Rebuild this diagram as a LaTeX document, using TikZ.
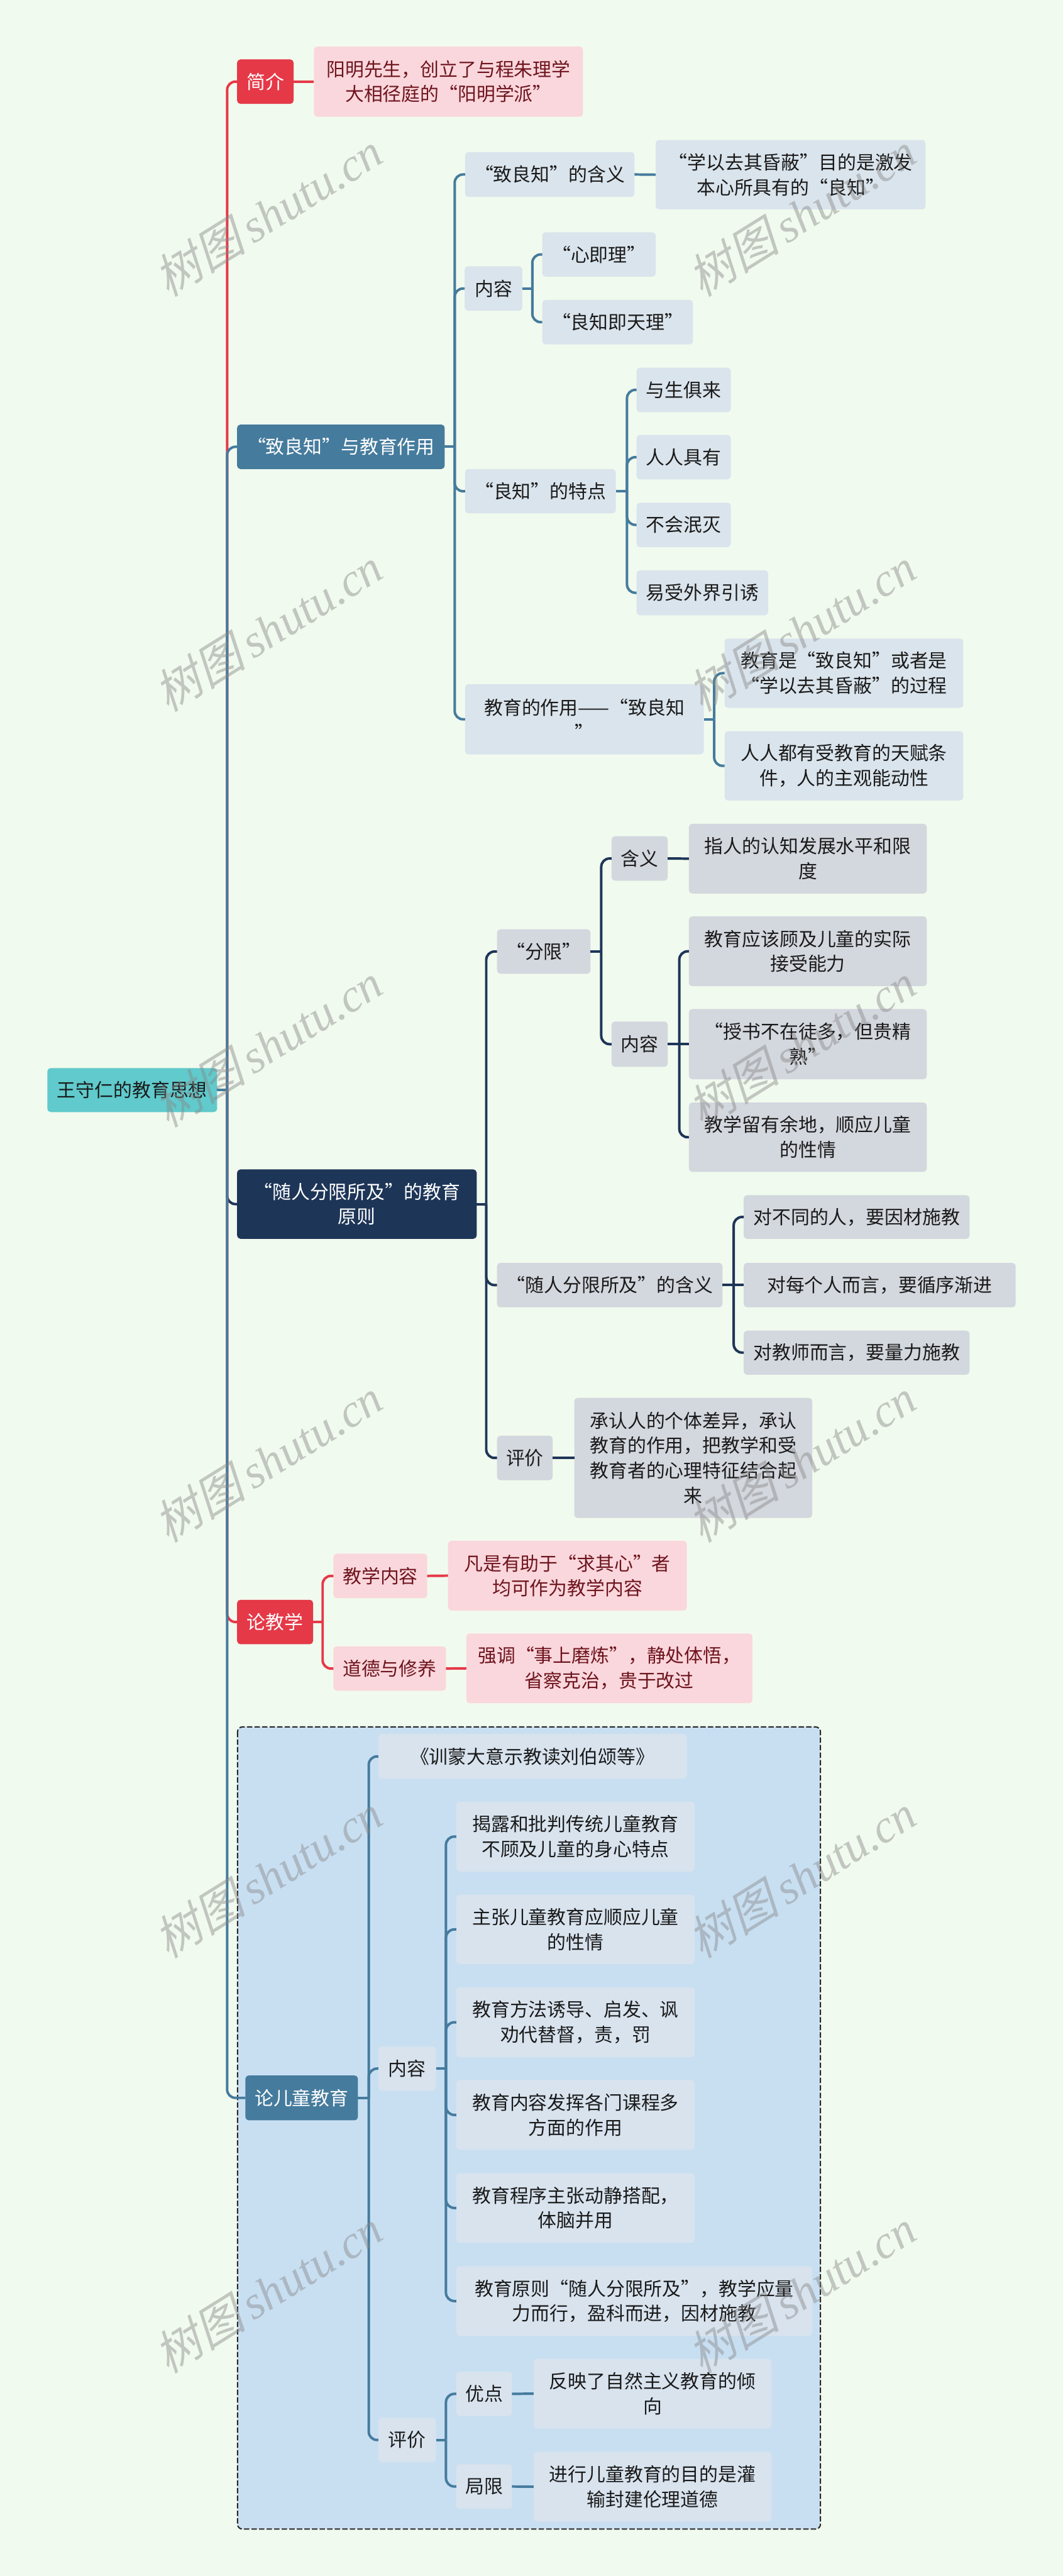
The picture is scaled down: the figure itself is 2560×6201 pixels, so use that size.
\documentclass[tikz,border=0pt]{standalone}
\usepackage{fontspec}
\setmainfont{Noto Sans CJK SC}
\newfontfamily\wmcjk[FakeSlant=0.25]{Noto Sans CJK SC}
\newfontfamily\wmlat{Liberation Serif}
\definecolor{bgc}{RGB}{241,250,238}
\definecolor{teal}{RGB}{96,202,204}
\definecolor{steel}{RGB}{69,123,157}
\definecolor{navy}{RGB}{29,53,87}
\definecolor{redb}{RGB}{229,57,72}
\definecolor{lsteel}{RGB}{218,228,236}
\definecolor{lnavy}{RGB}{211,215,222}
\definecolor{pinkb}{RGB}{250,215,220}
\definecolor{pinkt}{RGB}{110,20,30}
\definecolor{boxbg}{RGB}{200,223,242}
\definecolor{ebox}{RGB}{216,227,238}
\definecolor{txt}{RGB}{26,26,26}
\definecolor{wmgray}{RGB}{136,136,136}
\newcommand{\bx}[7]{%
  \pgfmathsetmacro\bxW{(#5-#3)*0.25}\pgfmathsetmacro\bxH{(#6-#4)*0.25}%
  \node[#2, minimum width=\bxW pt, minimum height=\bxH pt] (#1) at ({(#3+#5)/2},{(#4+#6)/2}) {#7};}
\newcommand{\tr}[4]{%
  \draw[#1] (#2.east) -- (#2.east -| #3);
  \draw[#1, rounded corners=5pt] (#2.east -| #3) |- (#4.west);}
\begin{document}
\begin{tikzpicture}[x=0.25pt,y=-0.25pt,
  base/.style={rounded corners=2pt, inner sep=0pt, outer sep=0pt, align=center, font=\fontsize{11.3}{15}\selectfont},
  rootb/.style={base, fill=teal, text=txt},
  redn/.style={base, fill=redb, text=white},
  steeln/.style={base, fill=steel, text=white},
  navyn/.style={base, fill=navy, text=white},
  pinkn/.style={base, fill=pinkb, text=pinkt},
  lsn/.style={base, fill=lsteel, text=txt},
  lnn/.style={base, fill=lnavy, text=txt},
  en/.style={base, fill=ebox, text=txt},
  cR/.style={draw=redb, line width=1.5pt},
  cS/.style={draw=steel, line width=1.5pt},
  cN/.style={draw=navy, line width=1.5pt},
  wm/.style={rotate=32, text=wmgray, opacity=0.45, inner sep=0pt, font=\fontsize{28}{30}\selectfont}
]
\fill[bgc] (0,0) rectangle (2560,6201);
\useasboundingbox (0,0) rectangle (2560,6201);
% dashed group box
\draw[fill=boxbg, draw=black!85, line width=0.75pt, dash pattern=on 3.25pt off 1.3pt, rounded corners=3pt] (572,4157) rectangle (1976,6088);

% vertical coordinates
\coordinate (v0) at (547,0);
\coordinate (vB) at (1095,0);
\coordinate (vB2) at (1282,0);
\coordinate (vB3) at (1510,0);
\coordinate (vB4) at (1720,0);
\coordinate (vC) at (1171,0);
\coordinate (vC1) at (1448,0);
\coordinate (vC1b) at (1636,0);
\coordinate (vC2) at (1767,0);
\coordinate (vD) at (777,0);
\coordinate (vE) at (888,0);
\coordinate (vE2) at (1074,0);

% root
\bx{root}{rootb}{114}{2571}{523}{2677}{王守仁的教育思想}
% level 1
\bx{n1}{redn}{571}{143}{707}{250}{简介}
\bx{n2}{steeln}{571}{1022}{1071}{1129}{“致良知”与教育作用}
\bx{n3}{navyn}{571}{2815}{1148}{2982}{“随人分限所及”的教育\\原则}
\bx{n4}{redn}{571}{3851}{754}{3958}{论教学}
\bx{n5}{steeln}{591}{4996}{862}{5104}{论儿童教育}

% branch 1
\bx{a1}{pinkn}{756}{112}{1404}{281}{阳明先生，创立了与程朱理学\\大相径庭的“阳明学派”}

% branch 2
\bx{b1}{lsn}{1120}{366}{1528}{474}{“致良知”的含义}
\bx{b1a}{lsn}{1579}{337}{2229}{504}{“学以去其昏蔽”目的是激发\\本心所具有的“良知”}
\bx{b2}{lsn}{1119}{641}{1258}{748}{内容}
\bx{b2a}{lsn}{1306}{559}{1579}{666}{“心即理”}
\bx{b2b}{lsn}{1306}{722}{1669}{829}{“良知即天理”}
\bx{b3}{lsn}{1120}{1129}{1483}{1236}{“良知”的特点}
\bx{b3a}{lsn}{1533}{885}{1760}{992}{与生俱来}
\bx{b3b}{lsn}{1533}{1047}{1760}{1154}{人人具有}
\bx{b3c}{lsn}{1533}{1210}{1760}{1317}{不会泯灭}
\bx{b3d}{lsn}{1533}{1373}{1850}{1481}{易受外界引诱}
\bx{b4}{lsn}{1120}{1647}{1695}{1816}{教育的作用——“致良知\\”}
\bx{b4a}{lsn}{1745}{1537}{2320}{1704}{教育是“致良知”或者是\\“学以去其昏蔽”的过程}
\bx{b4b}{lsn}{1745}{1760}{2320}{1927}{人人都有受教育的天赋条\\件，人的主观能动性}

% branch 3
\bx{c1}{lnn}{1197}{2237}{1422}{2344}{“分限”}
\bx{c1a}{lnn}{1473}{2013}{1608}{2120}{含义}
\bx{c1a1}{lnn}{1659}{1983}{2232}{2151}{指人的认知发展水平和限\\度}
\bx{c1b}{lnn}{1473}{2459}{1608}{2568}{内容}
\bx{c1b1}{lnn}{1659}{2206}{2232}{2374}{教育应该顾及儿童的实际\\接受能力}
\bx{c1b2}{lnn}{1659}{2429}{2232}{2598}{“授书不在徒多，但贵精\\熟”}
\bx{c1b3}{lnn}{1659}{2654}{2232}{2821}{教学留有余地，顺应儿童\\的性情}
\bx{c2}{lnn}{1197}{3040}{1740}{3147}{“随人分限所及”的含义}
\bx{c2a}{lnn}{1791}{2877}{2335}{2982}{对不同的人，要因材施教}
\bx{c2b}{lnn}{1791}{3040}{2446}{3147}{对每个人而言，要循序渐进}
\bx{c2c}{lnn}{1791}{3203}{2335}{3309}{对教师而言，要量力施教}
\bx{c3}{lnn}{1197}{3456}{1331}{3563}{评价}
\bx{c3a}{lnn}{1383}{3365}{1956}{3654}{承认人的个体差异，承认\\教育的作用，把教学和受\\教育者的心理特征结合起\\来}

% branch 4
\bx{d1}{pinkn}{803}{3740}{1029}{3847}{教学内容}
\bx{d1a}{pinkn}{1079}{3709}{1654}{3877}{凡是有助于“求其心”者\\均可作为教学内容}
\bx{d2}{pinkn}{803}{3963}{1074}{4070}{道德与修养}
\bx{d2a}{pinkn}{1123}{3932}{1812}{4100}{强调“事上磨炼”，静处体悟，\\省察克治，贵于改过}

% branch 5
\bx{e1}{en}{911}{4174}{1654}{4282}{《训蒙大意示教读刘伯颂等》}
\bx{e2}{en}{911}{4926}{1050}{5033}{内容}
\bx{e2a}{en}{1099}{4337}{1673}{4505}{揭露和批判传统儿童教育\\不顾及儿童的身心特点}
\bx{e2b}{en}{1099}{4561}{1673}{4728}{主张儿童教育应顺应儿童\\的性情}
\bx{e2c}{en}{1099}{4784}{1673}{4952}{教育方法诱导、启发、讽\\劝代替督，责，罚}
\bx{e2d}{en}{1099}{5007}{1673}{5175}{教育内容发挥各门课程多\\方面的作用}
\bx{e2e}{en}{1099}{5231}{1673}{5399}{教育程序主张动静搭配，\\体脑并用}
\bx{e2f}{en}{1099}{5455}{1956}{5623}{教育原则“随人分限所及”，教学应量\\力而行，盈科而进，因材施教}
\bx{e3}{en}{911}{5820}{1050}{5927}{评价}
\bx{e3a}{en}{1099}{5709}{1233}{5816}{优点}
\bx{e3a1}{en}{1285}{5678}{1858}{5846}{反映了自然主义教育的倾\\向}
\bx{e3b}{en}{1099}{5932}{1233}{6039}{局限}
\bx{e3b1}{en}{1285}{5902}{1858}{6070}{进行儿童教育的目的是灌\\输封建伦理道德}

% trunk connectors
\tr{cR}{root}{v0}{n1}
\tr{cS}{root}{v0}{n2}
\tr{cN}{root}{v0}{n3}
\tr{cR}{root}{v0}{n4}
\tr{cS}{root}{v0}{n5}

% branch 1
\draw[cR] (n1.east) -- (a1.west);
% branch 2
\tr{cS}{n2}{vB}{b1}
\tr{cS}{n2}{vB}{b2}
\tr{cS}{n2}{vB}{b3}
\tr{cS}{n2}{vB}{b4}
\draw[cS] (b1.east) -- (b1a.west);
\tr{cS}{b2}{vB2}{b2a}
\tr{cS}{b2}{vB2}{b2b}
\tr{cS}{b3}{vB3}{b3a}
\tr{cS}{b3}{vB3}{b3b}
\tr{cS}{b3}{vB3}{b3c}
\tr{cS}{b3}{vB3}{b3d}
\tr{cS}{b4}{vB4}{b4a}
\tr{cS}{b4}{vB4}{b4b}
% branch 3
\tr{cN}{n3}{vC}{c1}
\tr{cN}{n3}{vC}{c2}
\tr{cN}{n3}{vC}{c3}
\tr{cN}{c1}{vC1}{c1a}
\tr{cN}{c1}{vC1}{c1b}
\draw[cN] (c1a.east) -- (c1a1.west);
\tr{cN}{c1b}{vC1b}{c1b1}
\draw[cN] (c1b.east) -- (c1b2.west);
\tr{cN}{c1b}{vC1b}{c1b3}
\tr{cN}{c2}{vC2}{c2a}
\draw[cN] (c2.east) -- (c2b.west);
\tr{cN}{c2}{vC2}{c2c}
\draw[cN] (c3.east) -- (c3a.west);
% branch 4
\tr{cR}{n4}{vD}{d1}
\tr{cR}{n4}{vD}{d2}
\draw[cR] (d1.east) -- (d1a.west);
\draw[cR] (d2.east) -- (d2a.west);
% branch 5
\tr{cS}{n5}{vE}{e1}
\tr{cS}{n5}{vE}{e2}
\tr{cS}{n5}{vE}{e3}
\tr{cS}{e2}{vE2}{e2a}
\tr{cS}{e2}{vE2}{e2b}
\tr{cS}{e2}{vE2}{e2c}
\tr{cS}{e2}{vE2}{e2d}
\tr{cS}{e2}{vE2}{e2e}
\tr{cS}{e2}{vE2}{e2f}
\tr{cS}{e3}{vE2}{e3a}
\tr{cS}{e3}{vE2}{e3b}
\draw[cS] (e3a.east) -- (e3a1.west);
\draw[cS] (e3b.east) -- (e3b1.west);

% watermarks
\foreach \k in {0,...,5}{
  \node[wm] (wmL\k) at (645,{516+1000*\k}) {{\wmcjk 树图}\,{\wmlat\itshape shutu.cn}};
  \node[wm] (wmR\k) at (1930,{516+1000*\k}) {{\wmcjk 树图}\,{\wmlat\itshape shutu.cn}};
}
\end{tikzpicture}
\end{document}
